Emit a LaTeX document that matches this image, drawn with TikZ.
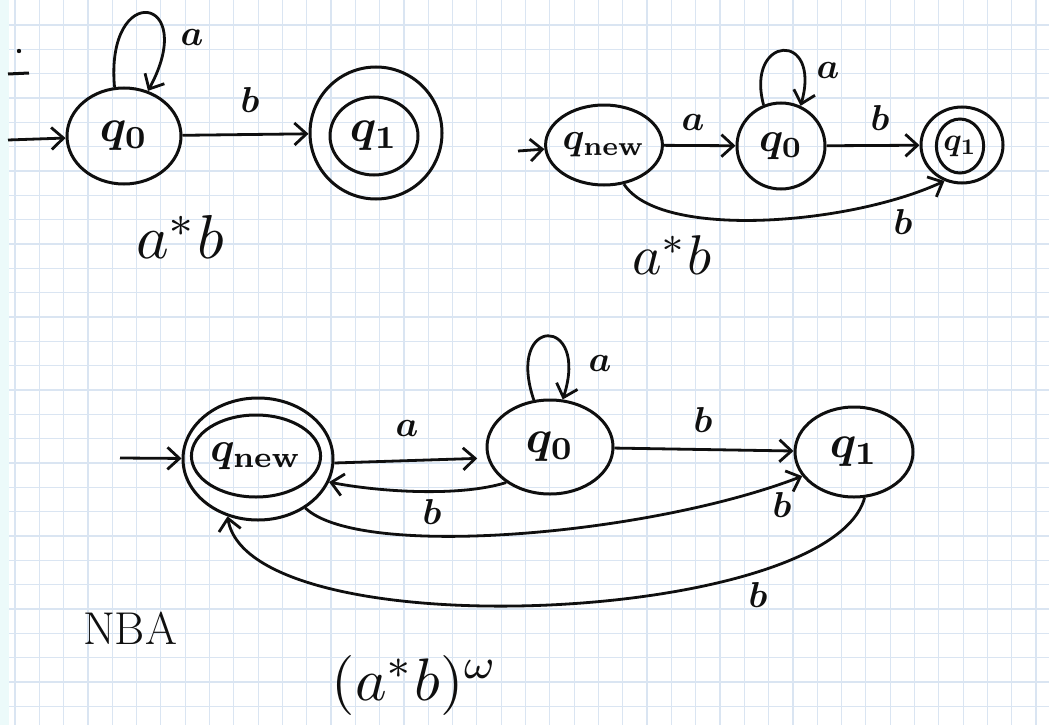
\documentclass[tikz,border=0pt]{standalone}
\usetikzlibrary{arrows.meta,shapes.geometric}
\definecolor{gridc}{RGB}{218,229,242}
\definecolor{stripc}{RGB}{236,250,250}
\definecolor{ink}{RGB}{15,15,15}
\newcommand\mysc[2]{\scalebox{#1}{\boldmath$#2$}}
\newcommand\myrg[2]{\scalebox{#1}{$#2$}}
\begin{document}
\begin{tikzpicture}[x=1pt,y=-1pt,
  st/.style={draw=ink, ellipse, line width=3pt, inner sep=0pt, text=ink},
  edge/.style={draw=ink, line width=2.8pt, -{Straight Barb[length=12pt,width=22pt]}},
  lbl/.style={inner sep=0pt, text=ink},
  bigtxt/.style={inner sep=0pt, text=ink}]
\useasboundingbox (0,0) rectangle (1049,725);
\fill[white] (0,0) rectangle (1049,725);
\fill[stripc] (0,0) rectangle (9,725);
\foreach \k in {0,...,42} \draw[gridc, line width=1.2pt] ({15+24.31*\k},0) -- ({15+24.31*\k},725);
\foreach \k in {1,...,29} \draw[gridc, line width=1.2pt] (9,{0.67+24.33*\k}) -- (1049,{0.67+24.33*\k});

% stray marks top-left
\draw[ink, line width=3pt] (8,74) -- (29,73);
\fill[ink] (19,51) circle (2.2pt);

% ---------- top left ----------
\node[st, minimum width=114, minimum height=96] (A0) at (124,136) {\mysc{4.6}{q_0}};
\node[st, minimum width=132, minimum height=132] (A1) at (376,133) {};
\node[st, minimum width=88, minimum height=78] (A1i) at (374,136) {\mysc{4.6}{q_1}};
\coordinate (A0s) at (8,140);
\draw[edge] (A0s) -- (A0);
\draw[edge] (A0) -- (A1);
\draw[edge] (A0.101) .. controls (105,-20) and (200,-5) .. (A0.62);
\node[lbl] (la1) at (192,38) {\mysc{3.6}{a}};
\node[lbl] (lb1) at (250,100) {\mysc{3.6}{b}};
\node[bigtxt] (T1) at (180,237) {\myrg{6.2}{a^*b}};

% ---------- top right ----------
\node[st, minimum width=88, minimum height=80] (B0) at (604,145) {\mysc{3.8}{q_{\mathrm{new}}}};
\node[st, minimum width=88, minimum height=86] (B1) at (781,146) {\mysc{4.2}{q_0}};
\node[st, minimum width=82, minimum height=76] (B2) at (962,145) {};
\node[st, minimum width=46, minimum height=54] (B2i) at (960,146) {\mysc{3.2}{q_1}};
\coordinate (B0s) at (518,151);
\draw[edge] (B0s) -- (B0);
\draw[edge] (B0) -- (B1);
\draw[edge] (B1) -- (B2);
\draw[edge] (B1.113) .. controls (745,35) and (822,30) .. (B1.64);
\draw[edge] (B0.-63) .. controls (660,240) and (850,225) .. (B2.-116);
\node[lbl] (la2) at (828,70) {\mysc{3.6}{a}};
\node[lbl] (la3) at (693,122) {\mysc{3.6}{a}};
\node[lbl] (lb2) at (880,118) {\mysc{3.6}{b}};
\node[lbl] (lb3) at (903,222) {\mysc{3.6}{b}};
\node[bigtxt] (T2) at (672,255) {\myrg{5.6}{a^*b}};

% ---------- bottom ----------
\node[st, minimum width=150, minimum height=122] (C0) at (258,459) {};
\node[st, minimum width=102, minimum height=82] (C0i) at (256,456) {\mysc{4.2}{q_{\mathrm{new}}}};
\node[st, minimum width=126, minimum height=94] (C1) at (550,447) {\mysc{4.6}{q_0}};
\node[st, minimum width=118, minimum height=90] (C2) at (854,452) {\mysc{4.6}{q_1}};
\coordinate (C0s) at (120,458);
\draw[edge] (C0s) -- (C0);
\draw[edge, shorten >=10pt] (C0.-3) -- (C1.190);
\draw[edge] (C1) -- (C2);
\draw[edge] (C1.109) .. controls (505,315) and (590,315) .. (C1.75);
\draw[edge] (C1.-141) .. controls (460,497) and (380,492) .. (C0.-18);
\draw[edge] (C0.-46) .. controls (360,560) and (650,535) .. (C2.-155);
\draw[edge] (C2.-77) .. controls (830,625) and (250,650) .. (C0.-118);
\node[lbl] (la4) at (407,428) {\mysc{3.6}{a}};
\node[lbl] (la5) at (600,363) {\mysc{3.6}{a}};
\node[lbl] (lb4) at (703,420) {\mysc{3.6}{b}};
\node[lbl] (lb5) at (432,512) {\mysc{3.6}{b}};
\node[lbl] (lb6) at (782,505) {\mysc{3.6}{b}};
\node[lbl] (lb7) at (758,595) {\mysc{3.6}{b}};
\node[bigtxt, font=\fontsize{46}{50}\selectfont] (T3) at (130,628) {NBA};
\node[bigtxt] (T4) at (415,685) {\myrg{6}{(a^*b)^\omega}};
\end{tikzpicture}
\end{document}
